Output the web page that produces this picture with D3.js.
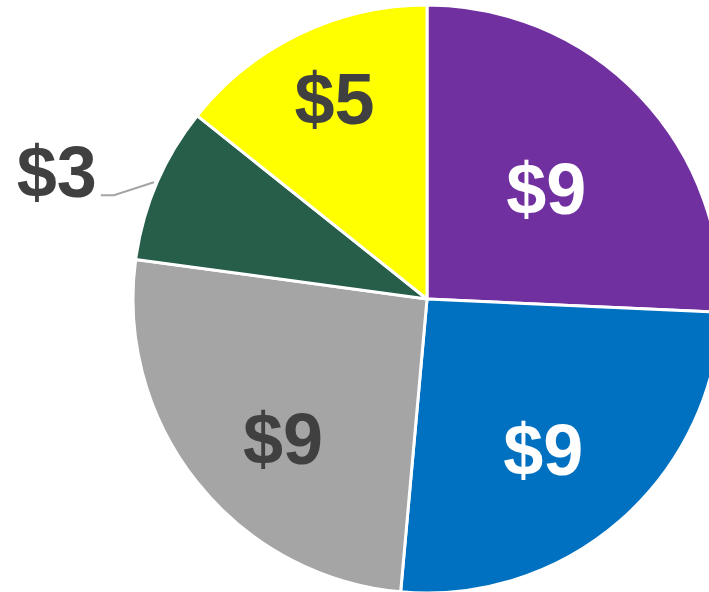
<!DOCTYPE html>
<html>
<head>
<meta charset="utf-8">
<script src="https://cdn.jsdelivr.net/npm/d3@7"></script>
<style>
  body { margin: 0; background: white; }
  svg { display: block; }
</style>
</head>
<body>
<div id="container"></div>
<script>
// slices clockwise from 12 o'clock
const categories = ["A", "B", "C", "D", "E"]
const values = [9, 9, 9, 3, 5]
const labels = ["$9", "$9", "$9", "$3", "$5"]

const colors = ["#7030A0", "#0070C0", "#A5A5A5", "#265E4A", "#FFFF00"]
const labelColors = ["#ffffff", "#ffffff", "#404040", "#404040", "#404040"]
// label placement: distance from centre and small angle nudge (degrees)
const labelRadius = [163, 190, 200, 0, 221]
const labelShift = [0.7, 3.4, -5.4, 0, 1.0]

const w = 709
const h = 592
const cx = 427
const cy = 299
const r = 294

const svg = d3.select("#container")
    .append("svg")
    .attr("width", w)
    .attr("height", h)

const g = svg.append("g")
    .attr("transform", `translate(${cx}, ${cy})`)

const pie = d3.pie().sort(null).value((d) => d.value)
const data = categories.map((c, i) => ({ name: c, value: values[i], i: i }))
const arcs = pie(data)

const arc = d3.arc().innerRadius(0).outerRadius(r)

g.selectAll(null)
    .data(arcs)
    .enter()
    .append("path")
    .attr("d", arc)
    .attr("fill", (d) => colors[d.data.i])
    .attr("stroke", "white")
    .attr("stroke-width", 3)
    .attr("stroke-linejoin", "round")

// inside labels
g.selectAll(null)
    .data(arcs.filter((d) => d.data.value >= 5))
    .enter()
    .append("text")
    .attr("transform", (d) => {
        const a = (d.startAngle + d.endAngle) / 2 + labelShift[d.data.i] * Math.PI / 180
        const lr = labelRadius[d.data.i]
        return `translate(${lr * Math.sin(a)}, ${-lr * Math.cos(a)})`
    })
    .attr("text-anchor", "middle")
    .attr("dy", "0.36em")
    .attr("fill", (d) => labelColors[d.data.i])
    .style("font-family", "Liberation Sans, Arial, sans-serif")
    .style("font-weight", "bold")
    .style("font-size", "72px")
    .text((d) => labels[d.data.i])

// outside label with leader line
arcs.filter((d) => d.data.value < 5).forEach((d) => {
    const a = (d.startAngle + d.endAngle) / 2
    const p0 = [(r + 3) * Math.sin(a), -(r + 3) * Math.cos(a)]
    const p1 = [p0[0] - 40, p0[1] + 13]
    const p2 = [p1[0] - 13, p1[1]]
    g.append("polyline")
        .attr("points", [p0, p1, p2].map((p) => p.join(",")).join(" "))
        .attr("fill", "none")
        .attr("stroke", "#A5A5A5")
        .attr("stroke-width", 2)
    g.append("text")
        .attr("x", p2[0] - 4)
        .attr("y", p2[1] - 24)
        .attr("text-anchor", "end")
        .attr("dy", "0.36em")
        .attr("fill", labelColors[d.data.i])
        .style("font-family", "Liberation Sans, Arial, sans-serif")
        .style("font-weight", "bold")
        .style("font-size", "72px")
        .text(labels[d.data.i])
})
</script>
</body>
</html>
